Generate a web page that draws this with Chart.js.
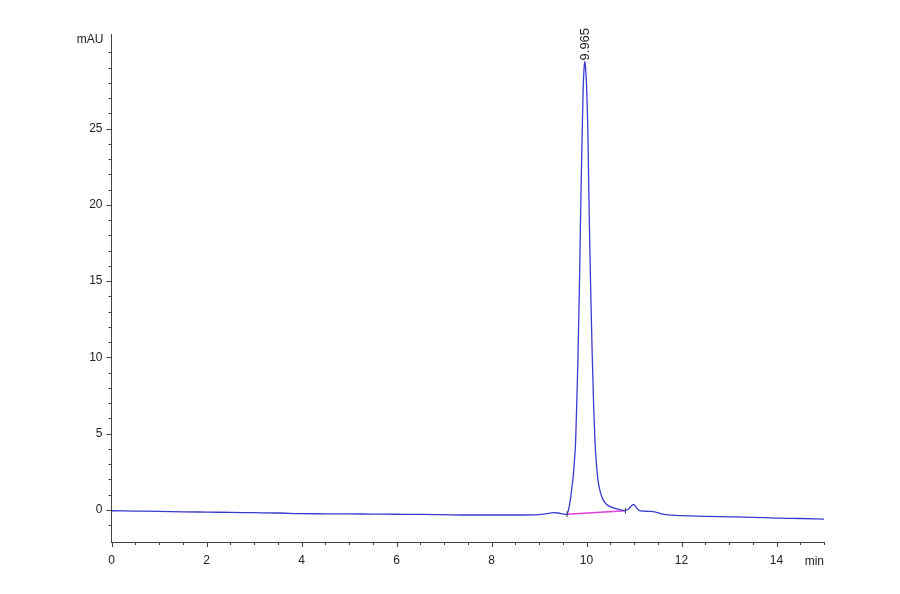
<!DOCTYPE html>
<html>
<head>
<meta charset="utf-8">
<script src="https://cdn.jsdelivr.net/npm/chart.js@4.4.0/dist/chart.umd.min.js"></script>
<style>
  body { margin: 0; background: #fff; }
  #wrap { width: 900px; height: 594px; }
</style>
</head>
<body>
<div id="wrap"><canvas id="myChart" width="900" height="594"></canvas></div>
<script>
// retention time (min) and signal (mAU)
const times = [
  0, 0.5, 1, 1.5, 2, 2.5, 3, 3.5, 4, 4.5, 5, 5.5, 6, 6.5, 7, 7.5, 8, 8.5, 9,
  9.2, 9.3, 9.4, 9.5, 9.58, 9.62, 9.66, 9.69, 9.72, 9.75, 9.77, 9.8, 9.82, 9.85,
  9.87, 9.9, 9.93, 9.95, 9.965, 9.98, 10, 10.03, 10.06, 10.09, 10.12, 10.15,
  10.18, 10.21, 10.24, 10.28, 10.35, 10.42, 10.5, 10.6, 10.7, 10.8, 10.88,
  10.95, 10.99, 11.05, 11.12, 11.2, 11.3, 11.4, 11.5, 11.6, 11.8, 12, 12.2,
  12.5, 13, 13.5, 14, 14.5, 15
]
const signal = [
  -0.05, -0.07, -0.09, -0.12, -0.14, -0.16, -0.18, -0.2, -0.24, -0.25, -0.26,
  -0.27, -0.28, -0.29, -0.31, -0.33, -0.33, -0.33, -0.3,
  -0.22, -0.18, -0.2, -0.26, -0.3, 0.0, 0.66, 1.4, 2.2, 3.4, 4.4, 7.6, 9.9, 14.5,
  18.3, 23.4, 27.6, 29.0, 29.4, 29.0, 27.9, 24.6, 18.8, 14.2, 10.2, 6.9,
  4.4, 3.0, 2.0, 1.3, 0.66, 0.38, 0.22, 0.1, 0.02, -0.04, 0.05,
  0.28, 0.37, 0.15, -0.05, -0.08, -0.09, -0.11, -0.18, -0.27, -0.34, -0.37, -0.39,
  -0.42, -0.45, -0.48, -0.53, -0.56, -0.6
]

// integration baseline under the main peak
const baseTimes = [9.59, 10.82]
const baseValues = [-0.28, -0.05]

const peakTime = 9.965
const peakHeight = 29.4
const peakLabel = '9.965'

const xTickLabels = [0, 2, 4, 6, 8, 10, 12, 14]
const yTickLabels = [0, 5, 10, 15, 20, 25]

const toPoints = (xs, ys) => xs.map((x, i) => ({ x: x, y: ys[i] }))

const axisColor = '#444'
const textColor = '#222'
const font = { family: 'Liberation Sans, Arial, sans-serif', size: 12 }

// draws major/minor tick marks plus the unit labels and the peak label
const extras = {
  id: 'extras',
  afterDraw(chart) {
    const c = chart.ctx
    const xs = chart.scales.x
    const ys = chart.scales.y
    c.save()
    c.strokeStyle = axisColor
    c.lineWidth = 1
    c.beginPath()
    xs.ticks.forEach(t => {
      if (Math.abs(t.value * 2 - Math.round(t.value * 2)) > 1e-6) return
      const px = Math.round(xs.getPixelForValue(t.value)) + 0.5
      const len = xTickLabels.includes(t.value) ? 5 : 3
      c.moveTo(px, ys.bottom)
      c.lineTo(px, ys.bottom + len)
    })
    ys.ticks.forEach(t => {
      if (!Number.isInteger(t.value)) return
      const py = Math.round(ys.getPixelForValue(t.value)) + 0.5
      const len = yTickLabels.includes(t.value) ? 5 : 3
      c.moveTo(xs.left, py)
      c.lineTo(xs.left - len, py)
    })
    // integration markers at start and end of the baseline
    baseTimes.forEach((bt, i) => {
      const px = xs.getPixelForValue(bt)
      const py = ys.getPixelForValue(baseValues[i])
      c.moveTo(px, py - 3)
      c.lineTo(px, py + 3)
    })
    c.stroke()

    c.fillStyle = textColor
    c.font = font.size + 'px ' + font.family
    c.textAlign = 'right'
    c.textBaseline = 'middle'
    c.fillText('mAU', xs.left - 8, ys.top + 6)
    c.textBaseline = 'top'
    c.fillText('min', xs.right, ys.bottom + 14)

    // rotated peak label above the apex
    c.translate(xs.getPixelForValue(peakTime) + 1, ys.getPixelForValue(peakHeight) - 1)
    c.rotate(-Math.PI / 2)
    c.textAlign = 'left'
    c.textBaseline = 'middle'
    c.font = '13px ' + font.family
    c.fillText(peakLabel, 0, 0)
    c.restore()
  }
}

const data = {
  datasets: [{
    label: 'Signal',
    data: toPoints(times, signal),
    borderColor: '#3a3ad0',
    borderWidth: 1.3,
    pointRadius: 0,
    cubicInterpolationMode: 'monotone'
  },
  {
    label: 'Baseline',
    data: toPoints(baseTimes, baseValues),
    borderColor: '#e040d8',
    borderWidth: 1.3,
    pointRadius: 0
  }]
}

const config = {
  type: 'line',
  data: data,
  options: {
    responsive: false,
    animation: false,
    layout: { padding: { left: 0, right: 76, top: 34, bottom: 0 } },
    plugins: { legend: { display: false }, tooltip: { enabled: false } },
    scales: {
      x: {
        type: 'linear',
        min: 0,
        max: 15,
        afterFit: s => { s.height = 52 },
        grid: { display: false, drawTicks: true, tickLength: 5 },
        border: { display: true, color: axisColor, width: 1 },
        ticks: {
          stepSize: 0.5,
          autoSkip: false,
          maxRotation: 0,
          padding: 6,
          color: textColor,
          font: font,
          callback: v => xTickLabels.includes(v) ? String(v) : ''
        }
      },
      y: {
        min: -2.1,
        max: 31.2,
        afterFit: s => { s.width = 111.5 },
        grid: { display: false, drawTicks: true, tickLength: 5 },
        border: { display: true, color: axisColor, width: 1 },
        ticks: {
          stepSize: 1,
          autoSkip: false,
          padding: 4,
          color: textColor,
          font: font,
          callback: v => yTickLabels.includes(v) ? String(v) : ''
        }
      }
    }
  },
  plugins: [extras]
}

const myChart = new Chart(document.getElementById('myChart').getContext('2d'), config)
</script>
</body>
</html>
